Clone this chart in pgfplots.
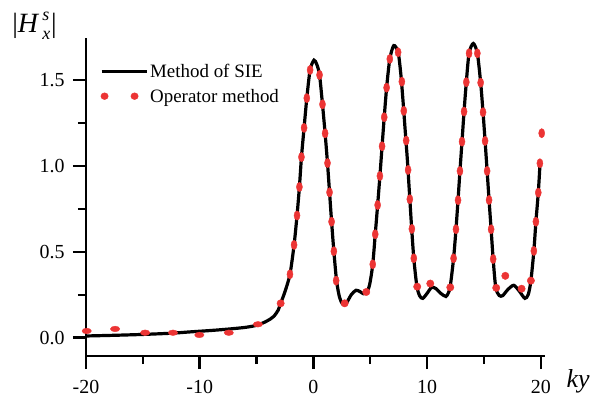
\documentclass[border=0pt]{standalone}
\usepackage{fontspec}
\setmainfont{Liberation Serif}
\usepackage{pgfplots}
\pgfplotsset{compat=1.18}
\definecolor{opred}{RGB}{236,52,52}
\begin{document}
\begin{tikzpicture}
\begin{axis}[
  scale only axis, width=459bp, height=318bp,
  xmin=-20, xmax=20.37, ymin=-0.1065, ymax=1.744,
  axis x line=bottom, axis y line=left,
  axis line style={-, line width=2.4bp},
  tick style={black, line width=2.4bp},
  tick align=outside,
  major tick length=13bp, minor tick length=8bp,
  xtick={-20,-10,0,10,20},
  minor xtick={-15,-5,5,15},
  ytick={0,0.5,1,1.5},
  minor ytick={0.25,0.75,1.25},
  xticklabel={\mbox{\rmfamily\pgfmathprintnumber[assume math mode=true]{\tick}}},
  yticklabel={\mbox{\rmfamily\pgfmathprintnumber[assume math mode=true,fixed,fixed zerofill,precision=1]{\tick}}},
  tick label style={font=\fontsize{20}{24}\selectfont},
  xticklabel style={yshift=-8bp},
  yticklabel style={xshift=-5bp},
  clip=false,
  legend style={draw=none, fill=none, at={(axis description cs:0.03,0.925)}, anchor=north west,
    font=\fontsize{19}{22}\selectfont, row sep=6bp, inner sep=0bp,
    nodes={inner sep=2bp}},
  legend cell align=left,
]
\addplot[black, line width=3.2bp, smooth, tension=0.45,
  legend image code/.code={\draw[black, line width=3.2bp] (0bp,0bp) -- (45bp,0bp);}]
coordinates {
(-20,0.010) (-17.5,0.014) (-15,0.019) (-12.5,0.026) (-10.8,0.034) (-9,0.042)
(-7.5,0.050) (-6,0.060) (-5,0.072) (-4.3,0.090) (-3.8,0.108) (-3.47,0.125)
(-3.1,0.160) (-2.88,0.200) (-2.5,0.268) (-2.06,0.369) (-1.70,0.540) (-1.44,0.711)
(-1.23,0.877) (-1.05,1.051) (-0.82,1.221) (-0.58,1.394) (-0.29,1.558) (0.05,1.615)
(0.30,1.590) (0.54,1.529) (0.80,1.358) (1.03,1.189) (1.24,1.016) (1.42,0.846)
(1.60,0.675) (1.80,0.503) (2.04,0.330) (2.30,0.235) (2.55,0.197) (2.75,0.192)
(3.0,0.212) (3.35,0.252) (3.75,0.276) (4.1,0.268) (4.4,0.256) (4.7,0.266)
(4.95,0.310) (5.22,0.427) (5.44,0.602) (5.65,0.772) (5.85,0.941) (6.04,1.114)
(6.23,1.283) (6.44,1.455) (6.72,1.622) (7.07,1.700) (7.45,1.661) (7.68,1.540)
(7.88,1.380) (8.08,1.200) (8.27,1.030) (8.44,0.850) (8.62,0.660) (8.83,0.462)
(9.10,0.300) (9.35,0.243) (9.62,0.229) (10.0,0.258) (10.4,0.293) (10.8,0.285)
(11.2,0.258) (11.65,0.240) (11.88,0.262) (12.04,0.300) (12.33,0.462) (12.54,0.631)
(12.72,0.800) (12.89,0.970) (13.07,1.141) (13.25,1.316) (13.45,1.487) (13.69,1.655)
(14.06,1.712) (14.42,1.655) (14.71,1.484) (14.92,1.312) (15.10,1.145) (15.28,0.970)
(15.45,0.801) (15.63,0.631) (15.81,0.458) (16.04,0.291) (16.35,0.245) (16.65,0.245)
(17.1,0.280) (17.62,0.305) (18.1,0.272) (18.6,0.229) (18.9,0.252) (19.13,0.332)
(19.39,0.505) (19.57,0.675) (19.78,0.844) (19.93,1.010)
};
\addlegendentry{Method of SIE}
% Operator method: dots on flat parts
\addplot[only marks, mark=*, mark size=3.6bp, opred,
  mark options={draw=none, fill=opred, xscale=1.3, yscale=0.78},
  legend image code/.code={
    \fill[opred] (3bp,0bp) ellipse [x radius=3.7bp, y radius=3.4bp];
    \fill[opred] (33bp,0bp) ellipse [x radius=3.7bp, y radius=3.4bp];
    \path (45bp,0bp);}]
coordinates {
(-19.94,0.039) (-17.44,0.051) (-14.8,0.029) (-12.35,0.029) (-10.03,0.016)
(-7.44,0.029) (-4.88,0.078)
};
\addlegendentry{Operator method}
% Operator method: dots near minima
\addplot[only marks, mark=*, mark size=3.7bp, opred, forget plot,
  mark options={draw=none, fill=opred}]
coordinates {
(-2.88,0.200) (2.75,0.200) (4.65,0.266) (9.13,0.297) (10.28,0.315) (12.04,0.293)
(16.08,0.290) (16.88,0.360) (18.31,0.285) (19.13,0.332)
};
% Operator method: dots on steep parts
\addplot[only marks, mark=*, mark size=3.7bp, opred, forget plot,
  mark options={draw=none, fill=opred, xscale=0.82, yscale=1.25}]
coordinates {
(-2.06,0.369) (-1.70,0.540) (-1.44,0.711) (-1.23,0.877) (-1.05,1.051) (-0.82,1.221)
(-0.58,1.394) (-0.29,1.558) (0.54,1.529) (0.80,1.358) (1.03,1.189) (1.24,1.016)
(1.42,0.846) (1.60,0.675) (1.80,0.503) (2.00,0.332)
(5.22,0.427) (5.44,0.602) (5.65,0.772) (5.85,0.941) (6.04,1.114) (6.23,1.283)
(6.44,1.455) (6.72,1.622) (7.45,1.661) (7.78,1.490) (7.95,1.320) (8.16,1.147)
(8.33,0.976) (8.48,0.806) (8.66,0.633) (8.83,0.462)
(12.33,0.462) (12.54,0.631) (12.72,0.800) (12.89,0.970) (13.07,1.141) (13.25,1.316)
(13.45,1.487) (13.69,1.655) (14.42,1.655) (14.71,1.484) (14.92,1.312) (15.10,1.145)
(15.28,0.970) (15.45,0.801) (15.63,0.631) (15.81,0.458)
(19.39,0.505) (19.57,0.675) (19.78,0.844) (19.92,1.015) (20.08,1.190)
};
\coordinate (O) at (rel axis cs:0,0);
\node[font=\fontsize{28}{30}\selectfont, anchor=base west, inner sep=0pt]
  at (axis description cs:-0.161,1.016)
  {|\textit{H}\hspace{3bp}\makebox[0pt][l]{\raisebox{12bp}{\fontsize{18}{20}\selectfont\textit{s}}}\raisebox{-7bp}{\fontsize{18}{20}\selectfont\textit{x}}\hspace{1bp}|};
\node[font=\fontsize{26}{30}\selectfont\itshape, anchor=center] at (axis description cs:1.072,-0.079) {ky};
\end{axis}
\pgfresetboundingbox
\path ([shift={(-86bp,-46bp)}]O) rectangle ([shift={(515bp,356bp)}]O);
\end{tikzpicture}
\end{document}
